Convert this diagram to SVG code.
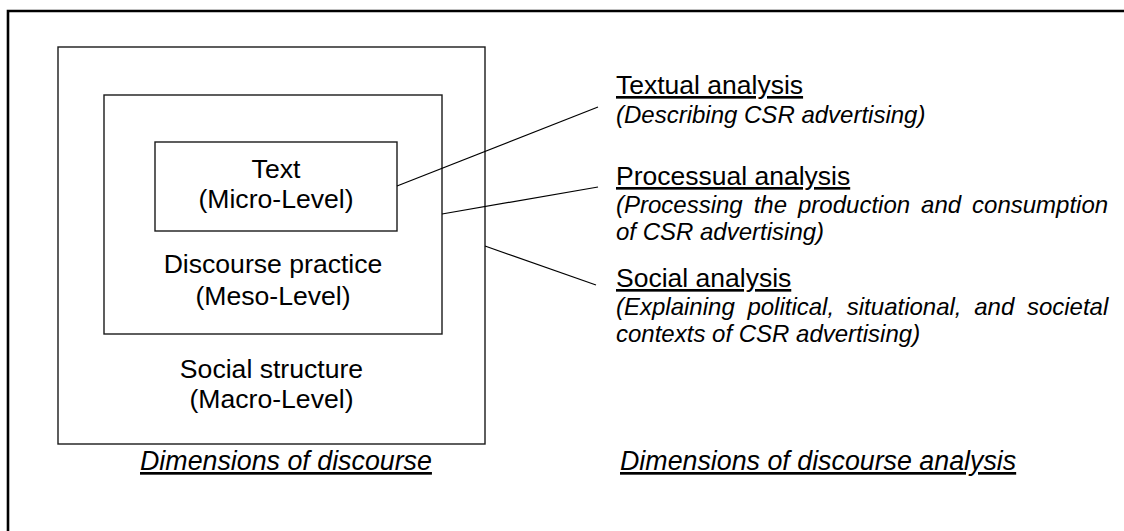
<svg xmlns="http://www.w3.org/2000/svg" width="1124" height="531" viewBox="0 0 1124 531">
<style>
.box{fill:none;stroke:#1a1a1a;stroke-width:1.4}
.lbl{font-family:"Liberation Sans",Arial,sans-serif;font-size:26.6px;fill:#000;text-anchor:middle}
.hd{font-family:"Liberation Sans",Arial,sans-serif;font-size:26.5px;fill:#000;text-decoration:underline}
.it{font-family:"Liberation Sans",Arial,sans-serif;font-size:24px;font-style:italic;fill:#000}
.cap{font-family:"Liberation Sans",Arial,sans-serif;font-size:26.8px;font-style:italic;fill:#000;text-decoration:underline}
.conn line{stroke:#000;stroke-width:1.2}
</style>
<rect width="1124" height="531" fill="#fff"/>
<path d="M8,531 V11 H1124" fill="none" stroke="#000" stroke-width="2.6"/>
<g id="social">
<rect class="box" x="58" y="47" width="427" height="397"/>
<text class="lbl" x="271.5" y="378">Social structure</text>
<text class="lbl" x="271.5" y="408">(Macro-Level)</text>
</g>
<g id="meso">
<rect class="box" x="104" y="95" width="338" height="239"/>
<text class="lbl" x="273" y="273">Discourse practice</text>
<text class="lbl" x="273" y="305">(Meso-Level)</text>
</g>
<g id="micro">
<rect class="box" x="155" y="142" width="242" height="89"/>
<text class="lbl" x="276" y="178">Text</text>
<text class="lbl" x="276" y="208">(Micro-Level)</text>
</g>
<g class="conn" id="connectors">
<line x1="397" y1="186" x2="598" y2="107"/>
<line x1="442" y1="214" x2="598" y2="187"/>
<line x1="485" y1="246" x2="596" y2="285"/>
</g>
<g id="textual">
<text class="hd" x="616" y="94">Textual analysis</text>
<text class="it" x="616" y="123">(Describing CSR advertising)</text>
</g>
<g id="processual">
<text class="hd" x="616" y="185">Processual analysis</text>
<text class="it" x="616" y="213" word-spacing="4.3">(Processing the production and consumption</text>
<text class="it" x="616" y="240">of CSR advertising)</text>
</g>
<g id="socialanalysis">
<text class="hd" x="616" y="287">Social analysis</text>
<text class="it" x="616" y="315" word-spacing="6">(Explaining political, situational, and societal</text>
<text class="it" x="616" y="342">contexts of CSR advertising)</text>
</g>
<g id="captions">
<text class="cap" x="140" y="470">Dimensions of discourse</text>
<text class="cap" x="620" y="470">Dimensions of discourse analysis</text>
</g>
</svg>
